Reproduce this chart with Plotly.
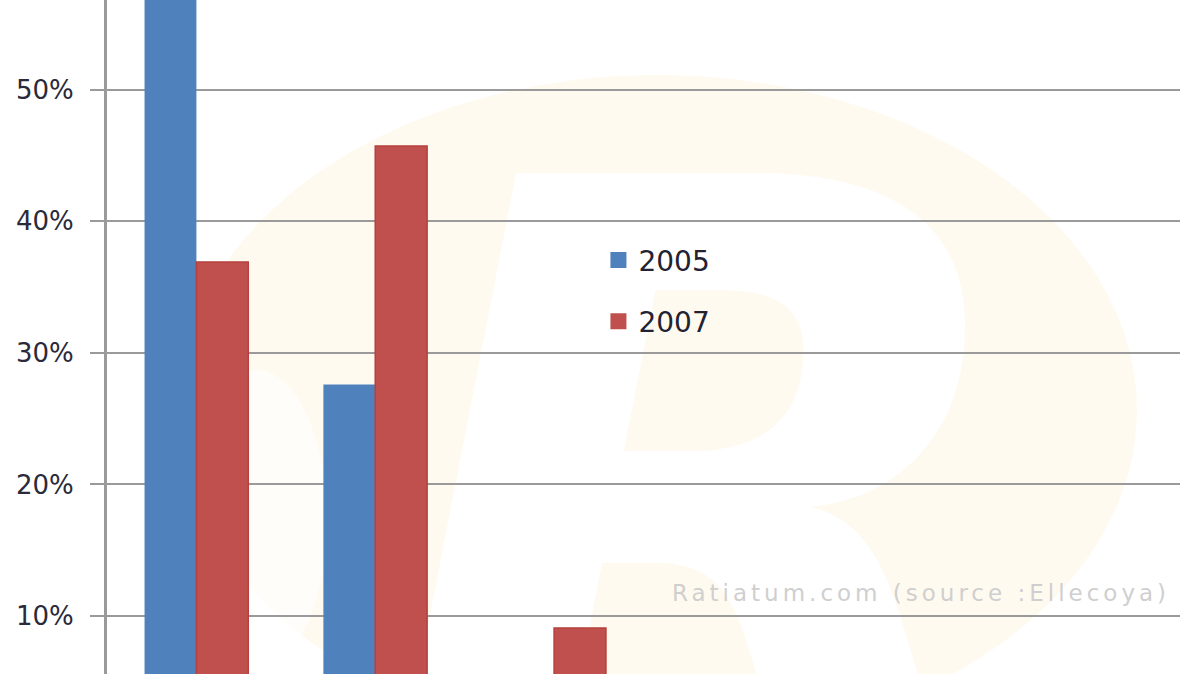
import base64
import plotly.graph_objects as go

categories = ["Cat 1", "Cat 2", "Cat 3", "Cat 4", "Cat 5", "Cat 6"]
values_2005 = [62.0, 27.6, None, None, None, None]
values_2007 = [36.9, 45.7, 9.1, None, None, None]
series_names = ["2005", "2007"]
series_colors = ["#4F81BD", "#C0504D"]
tick_values = [10, 20, 30, 40, 50]
tick_labels = ["10%", "20%", "30%", "40%", "50%"]
watermark_text = "Ratiatum.com (source :Ellecoya)"

# faint background logo (plot-area coordinates, 1073 x 674)
svg = """<svg xmlns='http://www.w3.org/2000/svg' viewBox='0 0 1073 674' width='1073' height='674' preserveAspectRatio='none'>
<ellipse cx='550' cy='410' rx='480' ry='335' fill='#fffaf0'/>
<text x='600' y='800' font-family='DejaVu Sans' font-weight='bold' font-style='italic' font-size='860' fill='#ffffff' text-anchor='middle'>R</text>
<ellipse cx='150' cy='520' rx='70' ry='150' fill='#ffffff' opacity='0.6'/>
</svg>"""
svg_uri = "data:image/svg+xml;base64," + base64.b64encode(svg.encode()).decode()

fig = go.Figure()
fig.add_trace(go.Bar(x=categories, y=values_2005, name=series_names[0],
                     marker=dict(color=series_colors[0], line=dict(width=0)),
                     showlegend=False))
fig.add_trace(go.Bar(x=categories, y=values_2007, name=series_names[1],
                     marker=dict(color=series_colors[1], line=dict(width=1.5, color="#B5403D")),
                     showlegend=False))
for i, (nm, col) in enumerate(zip(series_names, series_colors)):
    fig.add_trace(go.Scatter(x=[None], y=[None], mode="markers", name=nm,
                             marker=dict(symbol="square", size=18, color=col),
                             legendgroup=nm, showlegend=True))

fig.update_layout(
    template="none",
    width=1200, height=674,
    margin=dict(l=107, r=20, t=0, b=0, autoexpand=False),
    paper_bgcolor="white",
    plot_bgcolor="rgba(0,0,0,0)",
    barmode="group",
    bargap=0.42,
    bargroupgap=0,
    font=dict(family="DejaVu Sans", color="#222222"),
    xaxis=dict(range=[-0.5, 5.5], showticklabels=False, showgrid=False,
               ticks="", showline=False, zeroline=False),
    yaxis=dict(range=[5.6, 56.8], tickvals=tick_values, ticktext=tick_labels,
               showgrid=True, gridcolor="#9a9a9a", gridwidth=2,
               ticks="outside", ticklen=14, tickwidth=2, tickcolor="#9a9a9a",
               showline=True, linecolor="#9a9a9a", linewidth=3,
               zeroline=False, tickfont=dict(size=26, color="#2a2a3a"),
               ticklabelstandoff=11),
    legend=dict(x=0.458, y=0.651, xanchor="left", yanchor="top",
                bgcolor="rgba(0,0,0,0)", font=dict(size=28, color="#222233"),
                tracegroupgap=22, traceorder="grouped", itemwidth=30),
    images=[dict(source=svg_uri, xref="paper", yref="paper", x=0, y=1,
                 sizex=1, sizey=1, xanchor="left", yanchor="top",
                 sizing="stretch", layer="below", opacity=1)],
    annotations=[dict(text="<span style='letter-spacing:4px'>" + watermark_text + "</span>",
                      xref="paper", yref="y", x=0.993, y=10.65,
                      xanchor="right", yanchor="bottom", showarrow=False,
                      font=dict(size=23, color="#cfcfcf", family="DejaVu Sans"))],
)

fig.write_html("out.html", config={"displayModeBar": False},
               post_script="document.body.style.margin='0';document.body.style.padding='0';")
